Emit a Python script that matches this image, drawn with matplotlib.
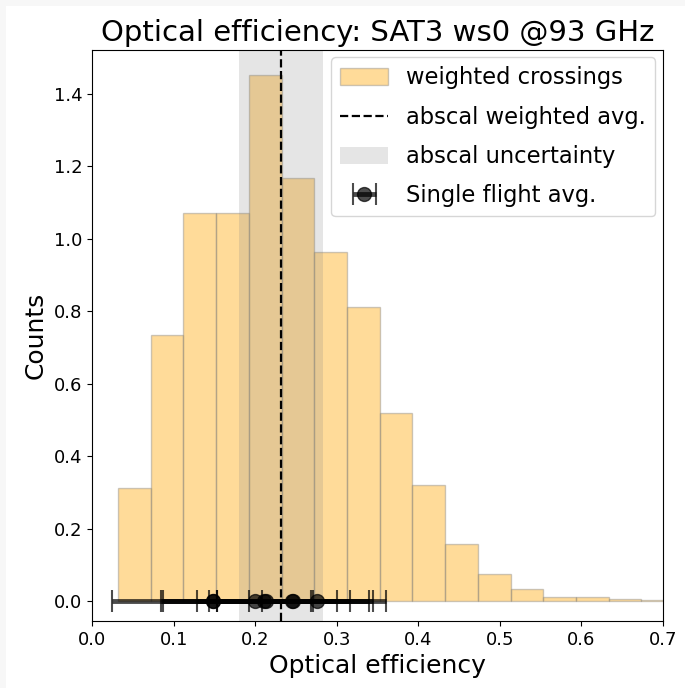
import numpy as np
import matplotlib
matplotlib.use("Agg")
import matplotlib.pyplot as plt
from matplotlib.patches import Rectangle

# Histogram (weighted crossings)
bin_edges = [0.0319, 0.0720, 0.1121, 0.1522, 0.1923, 0.2324, 0.2725, 0.3126,
             0.3527, 0.3928, 0.4329, 0.4730, 0.5131, 0.5532, 0.5933, 0.6334,
             0.6735, 0.7136]
counts = [0.312, 0.735, 1.072, 1.072, 1.453, 1.168, 0.964, 0.812, 0.519,
          0.320, 0.157, 0.075, 0.033, 0.011, 0.010, 0.005, 0.002]

# abscal
abscal_avg = 0.2323
abscal_lo = 0.1802
abscal_hi = 0.2832

# single flight averages
flight_x = [0.148, 0.148, 0.200, 0.213, 0.211, 0.245, 0.246, 0.276]
flight_err = [0.123, 0.005, 0.116, 0.126, 0.058, 0.116, 0.054, 0.068]

fig = plt.figure(figsize=(6.85, 6.88), dpi=100)
fig.patch.set_facecolor('#f7f7f7')
fig.add_artist(Rectangle((6 / 685, 0), 1, 1 - 6 / 688, transform=fig.transFigure,
                         facecolor='white', edgecolor='none', zorder=-10))
ax = fig.add_axes([92 / 685, (688 - 621) / 688, (663 - 92) / 685, (621 - 49.5) / 688])

edges = np.array(bin_edges)
h_hist = ax.bar(edges[:-1], counts, width=np.diff(edges), align='edge',
                facecolor='orange', edgecolor='gray', alpha=0.4, linewidth=1,
                label='weighted crossings')
h_line = ax.axvline(abscal_avg, color='black', linestyle='--', linewidth=1.6,
                    label='abscal weighted avg.')
h_span = ax.axvspan(abscal_lo, abscal_hi, color='gray', alpha=0.2, linewidth=0,
                    label='abscal uncertainty')

h_err = None
for i, (xv, ev) in enumerate(zip(flight_x, flight_err)):
    e = ax.errorbar([xv], [0], xerr=[ev], fmt='o', color='black', alpha=0.7,
                    markersize=10, elinewidth=3.5, capsize=8, capthick=1.5,
                    label='Single flight avg.' if i == 0 else None)
    if i == 0:
        h_err = e

ax.set_xlim(0, 0.7)
ax.set_ylim(-0.0552, 1.523)
ax.set_xticks([0.0, 0.1, 0.2, 0.3, 0.4, 0.5, 0.6, 0.7])
ax.set_yticks([0.0, 0.2, 0.4, 0.6, 0.8, 1.0, 1.2, 1.4])
ax.tick_params(labelsize=13)
ax.set_xlabel('Optical efficiency', fontsize=18)
ax.set_ylabel('Counts', fontsize=18)
ax.set_title('Optical efficiency: SAT3 ws0 @93 GHz', fontsize=21)
ax.legend([h_hist, h_line, h_span, h_err],
          ['weighted crossings', 'abscal weighted avg.', 'abscal uncertainty',
           'Single flight avg.'],
          loc='upper right', fontsize=16.3, labelspacing=0.72, handlelength=2.1,
          handleheight=0.8, borderaxespad=0.35)

fig.savefig('out.png', dpi=100, facecolor=fig.get_facecolor())
